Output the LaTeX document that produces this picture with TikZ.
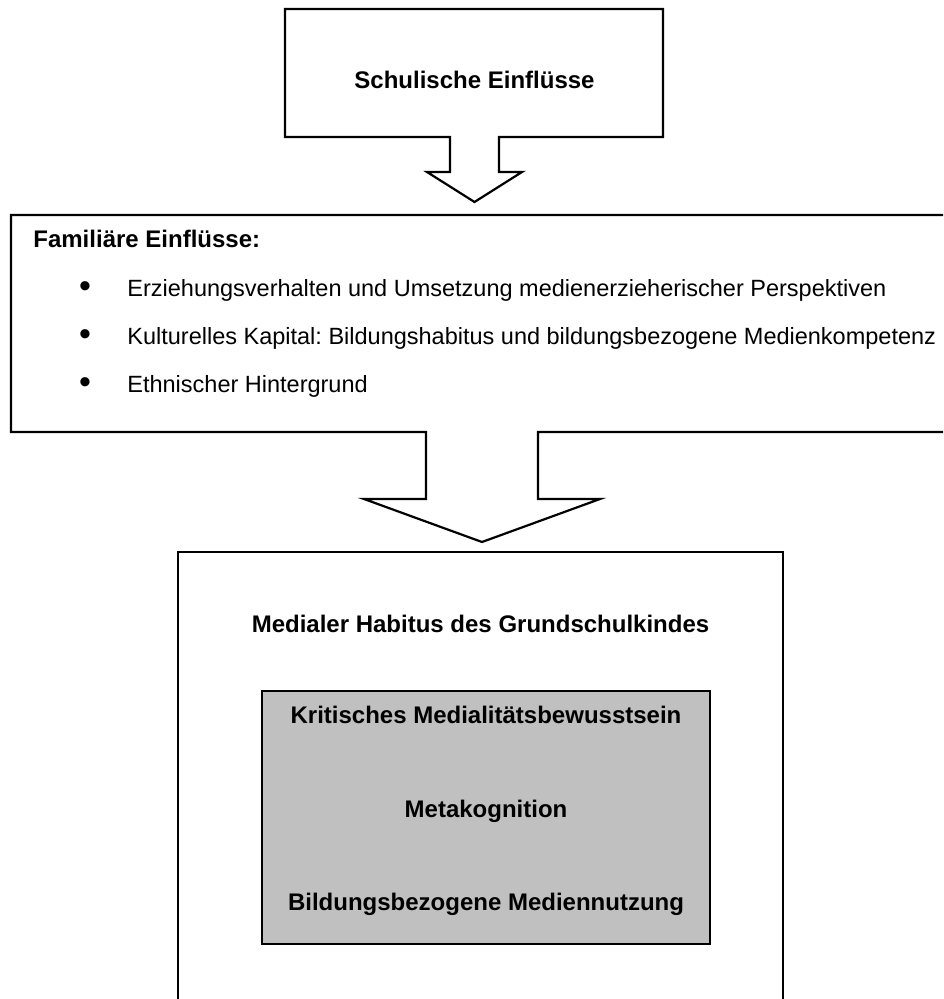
\documentclass[tikz,border=0pt]{standalone}
\usepackage{fontspec}
\setmainfont{Liberation Sans}
\frenchspacing
\begin{document}
\begin{tikzpicture}[x=0.5pt,y=-0.5pt,
  outl/.style={draw=black,line width=1.1pt,line join=miter},
  boldtxt/.style={font=\fontsize{12}{14}\selectfont\bfseries,inner sep=0pt,anchor=base},
  regtxt/.style={font=\fontsize{11.75}{14}\selectfont,inner sep=0pt,anchor=base west},
  bul/.style={font=\fontsize{17}{17}\selectfont,inner sep=0pt,anchor=center}]
\useasboundingbox (0,0) rectangle (943,999);
\clip (0,0) rectangle (943,999);
% top box with arrow
\draw[outl] (285,9) -- (663,9) -- (663,137) -- (499,137) -- (499,172) -- (522,172)
  -- (474.5,202) -- (427,172) -- (450,172) -- (450,137) -- (285,137) -- cycle;
\node[boldtxt] (schul) at (474.5,89) {Schulische Einflüsse};
% family box with arrow
\draw[outl] (950,215) -- (11,215) -- (11,432) -- (426,432) -- (426,499) -- (364,499)
  -- (482,542) -- (600,499) -- (538,499) -- (538,432) -- (950,432);
\node[boldtxt,anchor=base west] (fam) at (33,248) {Familiäre Einflüsse:};
\node[bul] (b1) at (85,290) {•};
\node[bul] (b2) at (85,338) {•};
\node[bul] (b3) at (85,386) {•};
\node[regtxt] (t1) at (127,297) {Erziehungsverhalten und Umsetzung medienerzieherischer Perspektiven};
\node[regtxt] (t2) at (127,345) {Kulturelles Kapital: Bildungshabitus und bildungsbezogene Medienkompetenz};
\node[regtxt] (t3) at (127,393) {Ethnischer Hintergrund};
% bottom box
\draw[outl] (178,1010) -- (178,552) -- (783,552) -- (783,1010);
\node[boldtxt] (med) at (480.5,632) {Medialer Habitus des Grundschulkindes};
% grey box
\draw[outl,fill={rgb,255:red,192;green,192;blue,192}] (262,691) rectangle (710,944);
\node[boldtxt] (krit) at (486,723) {Kritisches Medialitätsbewusstsein};
\node[boldtxt] (meta) at (486,817) {Metakognition};
\node[boldtxt] (bild) at (486,910) {Bildungsbezogene Mediennutzung};
\end{tikzpicture}
\end{document}
